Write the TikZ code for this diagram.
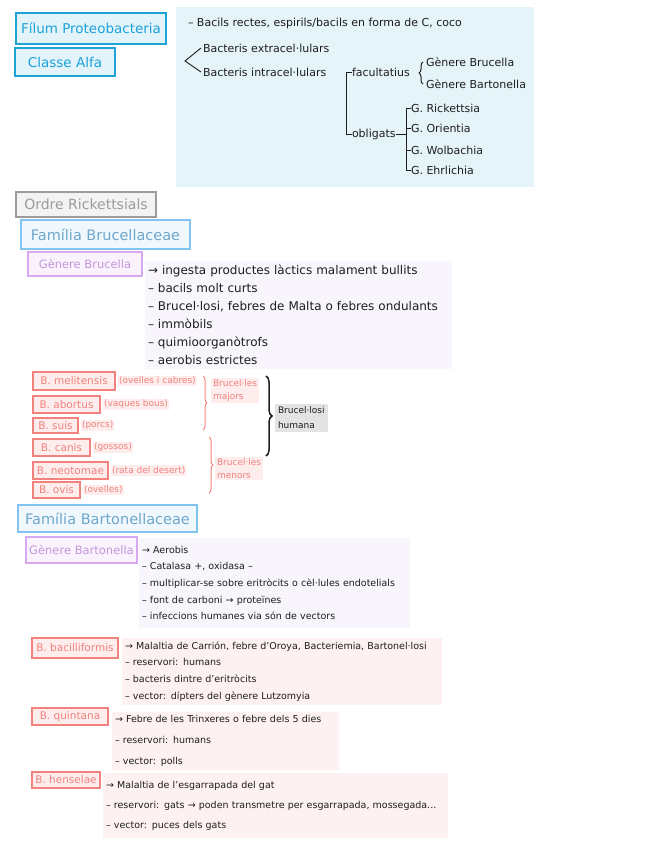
\documentclass[tikz,border=0pt]{standalone}
\usepackage{fontspec}
\setmainfont{DejaVu Sans}
\usetikzlibrary{positioning,decorations.pathreplacing}

\definecolor{filumblue}{HTML}{1CA3D8}
\definecolor{filumfill}{HTML}{E2F3FA}
\definecolor{panelblue}{HTML}{E5F4F9}
\definecolor{ordregray}{HTML}{9C9C9C}
\definecolor{ordrefill}{HTML}{F3F3F3}
\definecolor{famblue}{HTML}{82C4F0}
\definecolor{famfill}{HTML}{F0F8FE}
\definecolor{genpurple}{HTML}{D8A8F0}
\definecolor{genfill}{HTML}{FAF3FE}
\definecolor{notelila}{HTML}{F8F5FC}
\definecolor{spred}{HTML}{F2827E}
\definecolor{spfill}{HTML}{FDEDEC}
\definecolor{notepink}{HTML}{FDF2F1}
\definecolor{humgray}{HTML}{E3E3E3}
\definecolor{ink}{HTML}{1E1E1E}

\begin{document}
\begin{tikzpicture}[x=1pt,y=-1pt,
  every node/.style={inner sep=0pt,outer sep=0pt},
  taxbox/.style={anchor=north west,line width=2pt},
  filum/.style={taxbox,draw=filumblue,fill=filumfill,text=filumblue,line width=2.6pt,font=\fontsize{13.5}{15}\selectfont},
  ordre/.style={taxbox,draw=ordregray,fill=ordrefill,text=ordregray,font=\fontsize{14}{16}\selectfont},
  familia/.style={taxbox,draw=famblue,fill=famfill,text=famblue!85!black,font=\fontsize{14.5}{16}\selectfont},
  genere/.style={taxbox,draw=genpurple,fill=genfill,text=genpurple!90!black,font=\fontsize{11.5}{14}\selectfont},
  especie/.style={taxbox,draw=spred,fill=spfill,text=spred,line width=1.6pt,font=\fontsize{10.5}{12}\selectfont},
  hoste/.style={anchor=west,fill=spfill,text=spred,inner sep=1pt,font=\fontsize{9}{11}\selectfont},
  grup/.style={anchor=north west,fill=spfill,text=spred,align=left,inner sep=2pt,font=\fontsize{9}{12.5}\selectfont},
  notes/.style={anchor=north west,align=left,text=ink,inner xsep=3pt,inner ysep=0pt},
  ma/.style={anchor=west,text=ink,font=\fontsize{11}{13}\selectfont},
  tra/.style={ink,line width=0.9pt},
  clau/.style={decorate,decoration={brace,amplitude=4pt},line width=1pt}
]
\useasboundingbox (0,0) rectangle (656,848);

\node[filum,minimum width=150,minimum height=31] (filum) at (16,13) {Fílum Proteobacteria};
\node[filum,minimum width=100,minimum height=28] (classe) at (15,48) {Classe Alfa};

% resum de la classe
\node[anchor=north west,fill=panelblue,minimum width=358,minimum height=180] (resum) at (176,7) {};
\node[ma] (forma) at (188,23) {– Bacils rectes, espirils/bacils en forma de C, coco};
\node[ma] (extra) at (203,48) {Bacteris extracel·lulars};
\node[ma] (intra) at (203,72) {Bacteris intracel·lulars};
\coordinate (vertex) at (185,61);
\draw[tra] ([xshift=-2]extra.west) -- (vertex) -- ([xshift=-2]intra.west);

\node[ma] (facul) at (352,72) {facultatius};
\node[ma] (oblig) at (352,134) {obligats};
\draw[tra] (facul.west) -- ++(-6,0) |- (oblig.west);

\node[ma] (gbru) at (426,62) {Gènere Brucella};
\node[ma] (gbar) at (426,84) {Gènere Bartonella};
\draw[clau,ink] ([xshift=-3]gbar.west) -- ([xshift=-3]gbru.west);

\foreach \nm/\gen/\y in {rick/Rickettsia/108,orie/Orientia/128,wolb/Wolbachia/150,ehrl/Ehrlichia/170}
    \node[ma] (\nm) at (411,\y) {G. \gen};
\draw[tra] (rick.west) -- ++(-5,0) coordinate (obv) |- (ehrl.west);
\draw[tra] (orie.west) -- ++(-5,0);
\draw[tra] (wolb.west) -- ++(-5,0);
\draw[tra] (oblig.east) -- (oblig.east -| obv);

% Brucellaceae
\node[ordre,minimum width=140,minimum height=25] (ordre) at (16,192) {Ordre Rickettsials};
\node[familia,minimum width=169,minimum height=29] (fambru) at (21,220) {Família Brucellaceae};
\node[genere,minimum width=114,minimum height=24] (genbru) at (28,252) {Gènere Brucella};
\node[notes,fill=notelila,text width=301,minimum height=108,font=\fontsize{12}{18}\selectfont] (notesbru) at (145,261)
  {→ ingesta productes làctics malament bullits\\– bacils molt curts\\– Brucel·losi, febres de Malta o febres ondulants\\– immòbils\\– quimioorganòtrofs\\– aerobis estrictes};

\foreach \nm/\sp/\host/\y/\w/\h in {melit/B. melitensis/(ovelles i cabres)/372/82/18,
    abort/B. abortus/(vaques bous)/396/67/17, suis/B. suis/(porcs)/418/45/15,
    canis/B. canis/(gossos)/439/57/17, neot/B. neotomae/(rata del desert)/462/75/17,
    ovis/B. ovis/(ovelles)/482/47/16}{
    \node[especie,minimum width=\w,minimum height=\h] (\nm) at (33,\y) {\sp};
    \node[hoste,right=3pt of \nm] (\nm-h) {\host};
}

\coordinate (majtop) at (203,376);
\coordinate (majbot) at (203,430);
\draw[clau,spred] (majtop) -- (majbot);
\node[grup] (major) at (211,378) {Brucel·les\\majors};
\coordinate (mentop) at (209,437);
\coordinate (menbot) at (209,493);
\draw[clau,spred] (mentop) -- (menbot);
\node[grup] (menor) at (215,457) {Brucel·les\\menors};
\coordinate (humtop) at (266,376);
\coordinate (humbot) at (266,456);
\draw[clau,ink,line width=1.5pt,decoration={amplitude=6pt}] (humtop) -- (humbot);
\node[grup,fill=humgray,text=ink,inner sep=3pt,font=\fontsize{9}{15}\selectfont] (huma) at (275,404) {Brucel·losi\\humana};

% Bartonellaceae
\node[familia,minimum width=179,minimum height=27] (fambar) at (18,505) {Família Bartonellaceae};
\node[genere,minimum width=111,minimum height=26] (genbar) at (26,537) {Gènere Bartonella};
\node[notes,fill=notelila,text width=265,minimum height=90,font=\fontsize{9.5}{16.7}\selectfont] (notesbar) at (139,538)
  {→ Aerobis\\– Catalasa +, oxidasa –\\– multiplicar-se sobre eritròcits o cèl·lules endotelials\\– font de carboni → proteïnes\\– infeccions humanes via són de vectors};

\node[especie,minimum width=86,minimum height=20] (bacil) at (32,638) {B. bacilliformis};
\node[notes,fill=notepink,text width=314,minimum height=67,font=\fontsize{9.5}{16.7}\selectfont] (notesbac) at (122,638)
  {→ Malaltia de Carrión, febre d'Oroya, Bacteriemia, Bartonel·losi\\– reservori: humans\\– bacteris dintre d'eritròcits\\– vector: dípters del gènere Lutzomyia};

\node[especie,minimum width=76,minimum height=17] (quint) at (32,708) {B. quintana};
\node[notes,fill=notepink,text width=221,minimum height=58,font=\fontsize{9.5}{21}\selectfont] (notesqui) at (112,712)
  {→ Febre de les Trinxeres o febre dels 5 dies\\– reservori: humans\\– vector: polls};

\node[especie,minimum width=68,minimum height=16] (hensel) at (32,772) {B. henselae};
\node[notes,fill=notepink,text width=339,minimum height=65,font=\fontsize{9.5}{20}\selectfont] (noteshen) at (103,773)
  {→ Malaltia de l'esgarrapada del gat\\– reservori: gats → poden transmetre per esgarrapada, mossegada...\\– vector: puces dels gats};

\end{tikzpicture}
\end{document}
